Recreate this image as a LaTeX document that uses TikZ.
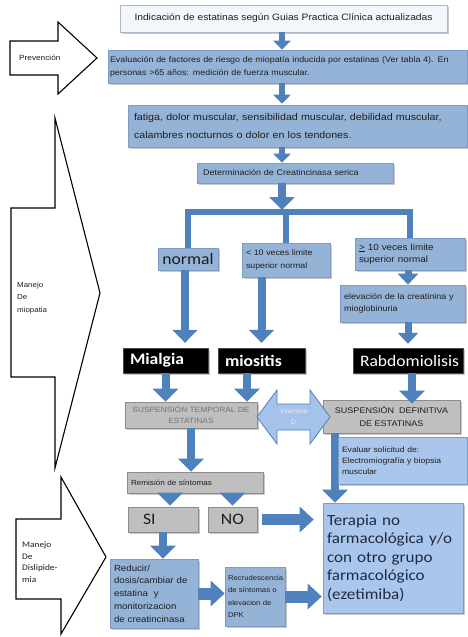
\documentclass[tikz,border=0pt]{standalone}
\usepackage{fontspec}
\setmainfont{Liberation Sans}[FakeStretch=1.1]
\newfontfamily\calib{Carlito}[FakeStretch=1.1]
\usetikzlibrary{arrows.meta,shadows}
\definecolor{boxblue}{HTML}{95B3D7}
\definecolor{boxblueb}{HTML}{7C9CC4}
\definecolor{lightbl}{HTML}{ABC6EC}
\definecolor{arrowblue}{HTML}{4F81BD}
\definecolor{grayfill}{HTML}{BFBFBF}
\definecolor{grayb}{HTML}{8C8C8C}
\definecolor{topfill}{HTML}{F3F6FB}
\definecolor{topb}{HTML}{A9B8CC}
\definecolor{txt}{HTML}{1E1E1E}
\definecolor{tertxt}{HTML}{1F2A44}
\definecolor{vitfill}{HTML}{A4C2EA}
\newcommand\fs[2]{\fontsize{#1}{#2}\selectfont}
\begin{document}
\begin{tikzpicture}[x=1pt,y=-1pt,
 shd/.style={drop shadow={shadow xshift=2pt,shadow yshift=-2pt,opacity=0.35,fill=black!60}},
 bbox/.style={rectangle, draw=boxblueb, fill=boxblue, line width=0.6pt, inner xsep=4pt, inner ysep=0pt, align=left, text=txt, shd},
 lbox/.style={bbox, fill=lightbl},
 gbox/.style={rectangle, draw=grayb, fill=grayfill, line width=0.6pt, inner xsep=4pt, inner ysep=0pt, text=txt, shd},
 kbox/.style={rectangle, fill=black, draw=black!70, inner xsep=7pt, inner ysep=0pt, text=white, align=left, font=\calib\fs{16}{18}, shd},
 smallarr/.style={color=arrowblue, line width=6pt, -{Triangle[width=17pt,length=9pt]}},
 medarr/.style={color=arrowblue, line width=7pt, -{Triangle[width=20pt,length=11pt]}},
 bigarr/.style={color=arrowblue, line width=8pt, -{Triangle[width=25pt,length=13pt]}},
 harr/.style={color=arrowblue, line width=11pt, -{Triangle[width=25pt,length=14pt]}},
 barline/.style={draw=arrowblue, line width=6pt},
 sidearr/.style={draw=black, fill=white, line width=1.1pt, line join=miter},
 sidetxt/.style={align=left, text=txt, inner sep=0pt, anchor=west},
 vitarr/.style={draw=arrowblue, fill=vitfill, line width=0.8pt, line join=miter},
]
\useasboundingbox[fill=white] (0,0) rectangle (468,637);

% ---------- side arrows ----------
\draw[sidearr] (10,41) -- (58,41) -- (58,22) -- (97,58) -- (58,94) -- (58,75) -- (10,75) -- cycle;
\node[sidetxt, font=\fs{7.5}{9}] (prev) at (19,58) {Prevención};
\draw[sidearr] (11,208) -- (55,208) -- (55,118) -- (100,293) -- (55,468) -- (55,377) -- (11,377) -- cycle;
\node[sidetxt, font=\fs{7.2}{12.5}] (miop) at (17,298) {Manejo\\De\\miopatia};
\draw[sidearr] (16,519) -- (61,519) -- (61,477) -- (106,557) -- (61,634) -- (61,599) -- (16,599) -- cycle;
\node[sidetxt, font=\calib\fs{8.5}{11.5}] (disl) at (22,562) {Manejo\\De\\Dislipide-\\mia};

% ---------- boxes ----------
\node[rectangle, draw=topb, fill=topfill, line width=0.6pt, shd, minimum width=327pt, minimum height=27pt, inner sep=0pt, text=txt, font=\fs{9.3}{11}] (b1) at (283.5,18.5) {Indicación de estatinas según Guias Practica Clínica actualizadas};
\node[bbox, text width=355pt, minimum height=33pt, inner xsep=2pt, font=\fs{8.1}{13}] (b2) at (287.5,66.5) {Evaluación de factores de riesgo de miopatía inducida por estatinas (Ver tabla 4). En\\personas >65 años: medición de fuerza muscular.};
\node[bbox, text width=327pt, minimum height=42pt, inner xsep=6pt, font=\fs{9.7}{18}] (b3) at (297.5,126) {fatiga, dolor muscular, sensibilidad muscular, debilidad muscular,\\calambres nocturnos o dolor en los tendones.};
\node[bbox, text width=184pt, minimum height=20pt, inner xsep=6pt, font=\fs{8.2}{9}] (b4) at (295,173) {Determinación de Creatincinasa serica};

\node[bbox, minimum width=60pt, minimum height=22pt, inner xsep=0pt, align=center, font=\calib\fs{16}{18}] (normal) at (188,259) {normal};
\node[bbox, text width=80pt, minimum height=34pt, font=\fs{8}{13}] (lt10) at (286,260) {< 10 veces limite\\superior normal};
\node[bbox, text width=102pt, minimum height=32pt, font=\fs{9}{12.5}] (ge10) at (410,254) {\underline{>} 10 veces limite\\superior normal};
\node[bbox, text width=117pt, minimum height=37pt, font=\fs{8.2}{12}] (elev) at (402.5,303.5) {elevación de la creatinina y\\mioglobinuria};

\node[kbox, text width=71pt, minimum height=25pt, font=\calib\bfseries\fs{16}{18}] (mialgia) at (165.5,360.5) {Mialgia};
\node[kbox, text width=73pt, minimum height=25pt, font=\calib\bfseries\fs{16}{18}] (miositis) at (261.5,360.5) {miositis};
\node[kbox, text width=96pt, minimum height=25pt] (rabdo) at (408,360.5) {Rabdomiolisis};

\node[gbox, minimum width=132pt, minimum height=26pt, align=center, text=black!55, font=\fs{7.6}{11}] (susptemp) at (191,415) {SUSPENSIÓN TEMPORAL DE\\ESTATINAS};
\node[gbox, minimum width=137pt, minimum height=33pt, align=center, font=\fs{8.2}{12.5}] (suspdef) at (391.5,416.5) {SUSPENSIÓN\ \ DEFINITIVA\\DE ESTATINAS};
\node[lbox, text width=132pt, minimum height=110pt, inner xsep=4pt, text=tertxt, font=\calib\fs{15.5}{18.5}] (terapia) at (393,558) {Terapia no\\farmacológica y/o\\con otro grupo\\farmacológico\\(ezetimiba)};

% arrow from definitive suspension to therapy (partly behind the Evaluar box)
\coordinate (xd) at (335,0);
\draw[bigarr] (suspdef.south -| xd) -- (terapia.north -| xd);
\node[lbox, text width=121pt, minimum height=47pt, font=\fs{7.8}{11}] (evaluar) at (402.5,460.5) {Evaluar solicitud de:\\Electromiografía y biopsia\\muscular};

\node[gbox, text width=128pt, minimum height=21pt, align=left, font=\fs{7.4}{9}] (remision) at (195,482.5) {Remisión de síntomas};
\node[gbox, text width=54pt, minimum height=25pt, inner xsep=8pt, align=left, font=\calib\fs{16}{18}] (si) at (163,519.5) {\hspace*{7pt}SI};
\node[gbox, minimum width=49pt, minimum height=25pt, align=center, font=\calib\fs{16}{18}] (no) at (232.5,519.5) {NO};

\node[bbox, text width=80pt, minimum height=69pt, font=\fs{8.8}{12.7}] (reducir) at (154,593.5) {Reducir/\\dosis/cambiar de\\estatina\ \ y\\monitorizacion\\de creatincinasa};
\node[bbox, text width=54pt, minimum height=59pt, inner xsep=3pt, font=\fs{7}{12.3}] (recrud) at (255,596.5) {Recrudescencia\\de síntomas o\\elevacion de\\DPK};

% ---------- connectors ----------
\coordinate (xa) at (282,0);
\coordinate (bar) at (288,212);
\draw[smallarr] (b1.south -| xa) -- (b2.north -| xa);
\draw[smallarr] (b2.south -| xa) -- ([yshift=1pt]b3.north -| xa);
\draw[smallarr] (b3.south -| xa) -- (b4.north -| xa);
\draw[barline] (normal.north) |- (bar) -| (ge10.north);
\draw[barline] (lt10.north) -- (lt10.north |- bar);
\draw[bigarr] (b4.south -| xa) -- ([yshift=2pt]xa |- bar);

\coordinate (xn) at (185,0);
\draw[bigarr] (normal.south -| xn) -- ([yshift=5pt]xn |- mialgia.north);
\draw[bigarr] (miositis.north |- lt10.south) -- ([yshift=5pt]miositis.north);
\draw[medarr] (ge10.south -| rabdo.north) -- (elev.north -| rabdo.north);
\draw[medarr] (elev.south -| rabdo.north) -- ([yshift=4pt]rabdo.north);

\coordinate (xm) at (247,0);
\coordinate (xr) at (412,0);
\draw[bigarr] (mialgia.south) -- (mialgia.south |- susptemp.north);
\draw[bigarr] (miositis.south -| xm) -- (susptemp.north -| xm);
\draw[bigarr] (rabdo.south -| xr) -- ([yshift=-4pt]suspdef.north -| xr);

% Vitamina D double arrow
\draw[vitarr] (257,417) -- (277,390) -- (277,404) -- (310,404) -- (310,390) -- (330,417) -- (310,444) -- (310,430) -- (277,430) -- (277,444) -- cycle;
\node[align=center, text=white!92!blue, font=\fs{6.5}{11}, inner sep=0pt] (vit) at (293.5,417) {Vitamina\\D};

\coordinate (xs) at (170,0);
\draw[bigarr] (susptemp.south) -- (susptemp.south |- remision.north);
\draw[bigarr] (remision.south -| xs) -- ([yshift=1pt]si.north -| xs);
\draw[bigarr] (remision.south -| no.north) -- ([yshift=1pt]no.north);
\draw[bigarr] (si.south) -- (si.south |- reducir.north);
\draw[harr, shorten <=5pt, shorten >=9pt] (no.east) -- (terapia.west |- no.east);
\draw[harr, line width=12pt] (reducir.east) -- (recrud.west |- reducir.east);
\draw[harr, line width=12pt] (recrud.east) -- ([xshift=-1pt]terapia.west |- recrud.east);
\end{tikzpicture}
\end{document}
